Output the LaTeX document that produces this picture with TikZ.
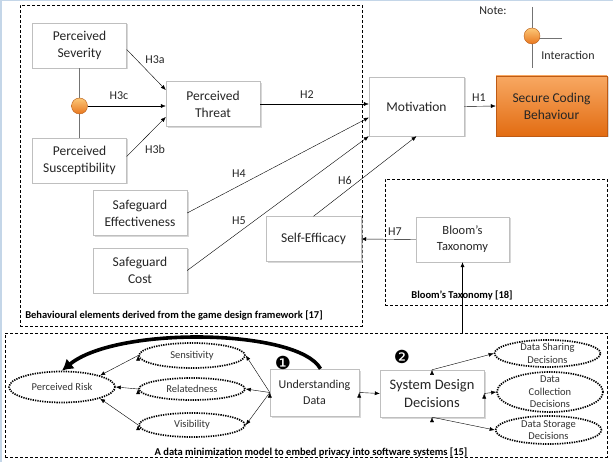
\documentclass[tikz,border=0pt]{standalone}
\usepackage{fontspec}
\setmainfont{Carlito}
\newfontfamily\dingfont{DejaVu Sans}
\usetikzlibrary{positioning,shapes.geometric,shadows,arrows.meta}

\definecolor{scbtop}{RGB}{248,168,98}
\definecolor{scbbot}{RGB}{226,108,18}
\definecolor{scbline}{RGB}{190,90,20}
\definecolor{balltop}{RGB}{252,200,120}
\definecolor{ballbot}{RGB}{232,118,30}
\definecolor{framecol}{RGB}{196,214,232}

\begin{document}
\begin{tikzpicture}[
    x=1pt, y=-1pt,
    % general settings
    align=center,
    font=\fontsize{13.5}{17}\selectfont,
    % nodes
    construct/.style={rectangle, draw=black!25, fill=white, text=black!85, inner sep=2pt,
                      minimum width=94pt, minimum height=45pt,
                      drop shadow={shadow xshift=1.5pt, shadow yshift=-1.5pt, fill=black!30}},
    model/.style={construct, minimum width=89pt, minimum height=47pt, font=\fontsize{12}{16}\selectfont},
    outcome/.style={construct, draw=scbline, top color=scbtop, bottom color=scbbot,
                    minimum width=111pt, minimum height=60pt},
    group/.style={rectangle, draw=black, thin, dash pattern=on 3pt off 2pt},
    grouplabel/.style={font=\bfseries\fontsize{10.5}{12}\selectfont, inner sep=0pt},
    dotell/.style={ellipse, draw=black, line width=1.7pt, dash pattern=on 1.3pt off 1.1pt,
                   minimum width=106pt, inner sep=0pt, text=black!80, font=\fontsize{10.5}{12.5}\selectfont},
    ellabel/.style={text=black!80, inner sep=0pt, font=\fontsize{10.5}{12.5}\selectfont},
    ball/.style={circle, minimum size=16pt, inner sep=0pt, draw=ballbot!80!black, thin,
                 top color=balltop, bottom color=ballbot},
    hyp/.style={font=\fontsize{12}{14}\selectfont, inner sep=0pt, text=black!85},
    stepno/.style={font=\dingfont\fontsize{18}{18}\selectfont, inner sep=0pt},
    % arrows
    dep/.style={black, thin, -{Latex[length=5pt,width=4pt]}},
    bigdep/.style={black, line width=3.6pt, -{Latex[length=11pt,width=13pt]}}
  ]

  \useasboundingbox (0,0) rectangle (613,462);
  \draw[framecol, line width=1.5pt] (0.75,462) -- (0.75,0.75) -- (613,0.75);

  % groups
  \node (gamebox)    [group, minimum width=342pt, minimum height=321pt] at (191,165.5) {};
  \node (bloombox)   [group, minimum width=222pt, minimum height=126pt] at (496,242)   {};
  \node (databox)    [group, minimum width=602pt, minimum height=124pt] at (306,395)   {};

  \node (gamelabel)  [grouplabel] at (174,316) {Behavioural elements derived from the game design framework [17]};
  \node (bloomlabel) [grouplabel] at (462,295) {Bloom’s Taxonomy [18]};
  \node (datalabel)  [grouplabel] at (311,452) {A data minimization model to embed privacy into software systems [15]};

  % constructs
  \node (sev)        [construct] at (79.5,45.5)   {Perceived\\Severity};
  \node (sus)        [construct] at (79.5,160.5)  {Perceived\\Susceptibility};
  \node (threat)     [construct] at (213,104)     {Perceived\\Threat};
  \node (motivation) [construct, minimum width=95pt, minimum height=59pt] at (416.5,106.5) {Motivation};
  \node (scb)        [outcome]   at (551.5,106)   {Secure Coding\\Behaviour};
  \node (safeeff)    [construct] at (140,213)     {Safeguard\\Effectiveness};
  \node (safecost)   [construct] at (140,270.5)   {Safeguard\\Cost};
  \node (selfeff)    [construct, minimum width=95pt] at (313.5,239) {Self-Efficacy};
  \node (bloom)      [construct, minimum width=93pt, font=\fontsize{12.5}{16}\selectfont] at (462.5,239.5) {Bloom’s\\Taxonomy};

  \draw[black!55] (sev.south) -- (sus.north);
  \node (inter)      [ball] at (79.5,106) {};

  % legend
  \node (note)       [hyp] at (493,11) {Note:};
  \coordinate (legtop)   at (532,7);
  \coordinate (legbot)   at (532,68);
  \coordinate (legright) at (562,38);
  \draw[black!55] (legtop) -- (legbot);
  \draw[black!55] (532,38) -- (legright);
  \node (legball)    [ball] at (532,36) {};
  \node (legtext)    [hyp] at (568,55) {Interaction};

  % data minimization model
  \node (ud)         [model] at (314.5,392.5) {Understanding\\Data};
  \node (sdd)        [construct, minimum width=104pt, minimum height=47pt, font=\fontsize{14.5}{18}\selectfont]
                             at (432,393.5)   {System Design\\Decisions};

  \node (risk)       [dotell, minimum height=31pt] at (62,387)    {Perceived Risk};
  \node (sens)       [dotell, minimum height=25pt] at (192,355.5) {Sensitivity};
  \node (rel)        [dotell, minimum height=22pt] at (192,389)   {Relatedness};
  \node (vis)        [dotell, minimum height=24pt] at (192,425)   {Visibility};

  \node (share)      [dotell, minimum height=27pt,
                      label={[ellabel]center:Data Sharing\\Decisions}]          at (547.5,353.5) {};
  \node (coll)       [dotell, minimum height=40pt,
                      label={[ellabel]center:Data\\Collection\\Decisions}]     at (550,392)     {};
  \node (stor)       [dotell, minimum height=28pt,
                      label={[ellabel]center:Data Storage\\Decisions}]          at (548.5,430)   {};

  \node (one)        [stepno] at (283,363) {❶};
  \node (two)        [stepno] at (402,357) {❷};

  % hypothesis labels
  \node (lh3a) [hyp] at (155,60)  {H3a};
  \node (lh3c) [hyp] at (119,96)  {H3c};
  \node (lh3b) [hyp] at (155,149) {H3b};
  \node (lh2)  [hyp] at (307,95)  {H2};
  \node (lh1)  [hyp] at (479,98)  {H1};
  \node (lh4)  [hyp] at (239,174) {H4};
  \node (lh5)  [hyp] at (239,221) {H5};
  \node (lh6)  [hyp] at (345,180) {H6};
  \node (lh7)  [hyp] at (395,232) {H7};

  % arrows
  \draw[dep] ([yshift=-4pt]sev.east)      -- ([yshift=14pt]threat.west);
  \draw[dep] ([yshift=4pt]sus.east)       -- ([yshift=-13pt]threat.west);
  \draw[dep] (inter.east)                 -- (inter.east -| threat.west);
  \draw[dep] (threat.east)                -- (threat.east -| motivation.west);
  \draw[dep] (motivation.east)            -- (scb.west);
  \draw[dep] (safeeff.east)               -- ([yshift=-11pt]motivation.west);
  \draw[dep] (safecost.east)              -- (motivation.south west);
  \draw[dep] (selfeff.north)              -- (motivation.south);
  \draw[dep] (bloom.west)                 -- (selfeff.east);
  \draw[dep] (databox.north -| bloom.south) -- (bloom.south);

  \draw[dep] (ud.west)    edge (sens.east)
                          edge (rel.east)
                          edge (vis.east);
  \draw[dep] (sens.west)  edge (risk.north east);
  \draw[dep] (rel.west)   edge (risk.east);
  \draw[dep] (vis.west)   edge (risk.south east);
  \draw[dep] (ud.east)    edge (sdd.west);
  \draw[dep] (sdd.north)  edge (share.west);
  \draw[dep] (sdd.east)   edge (coll.west);
  \draw[dep] (sdd.south)  edge (stor.west);

  \draw[bigdep] ([xshift=6pt]ud.north) .. controls +(-22,-40) and +(55,-45) .. (risk.north);
\end{tikzpicture}
\end{document}
